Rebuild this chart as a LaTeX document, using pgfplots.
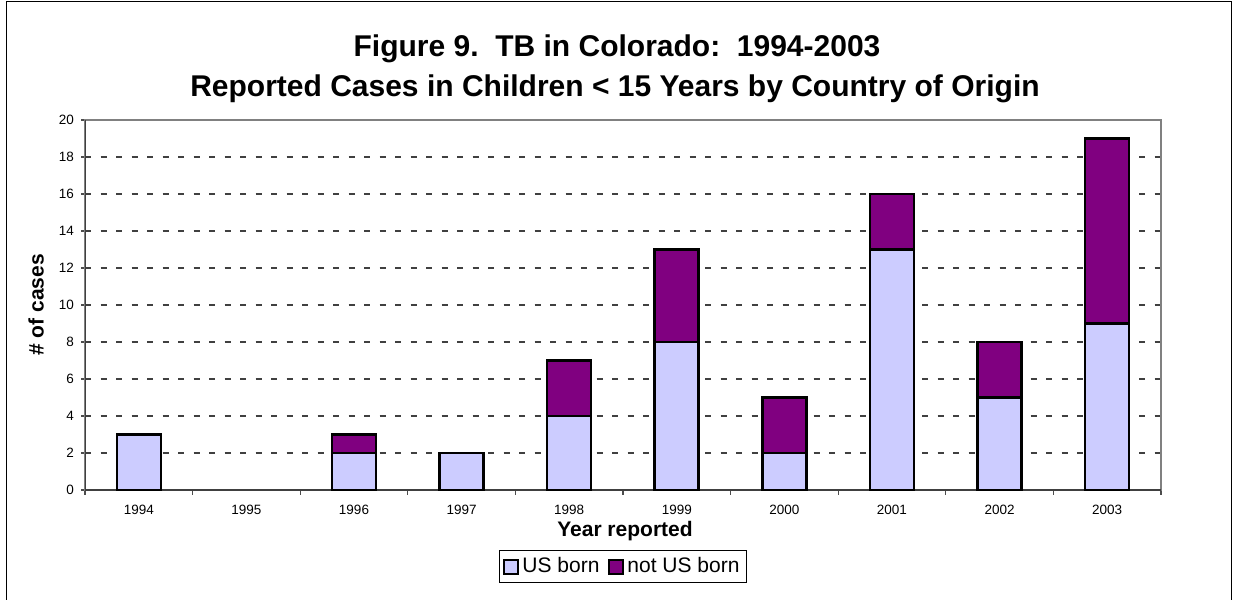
\documentclass[border=0pt]{standalone}
\usepackage{pgfplots}
\pgfplotsset{compat=1.18}
\usepackage{fontspec}
\setmainfont{Liberation Sans}
\definecolor{usb}{HTML}{CCCCFF}
\definecolor{nusb}{HTML}{800080}
\begin{document}
\begin{tikzpicture}
\useasboundingbox (0pt,0pt) rectangle (616.5pt,300pt);
\draw[line width=0.75pt] (3.25pt,0pt) -- (3.25pt,299.25pt) -- (615.75pt,299.25pt) -- (615.75pt,0pt);
\node[anchor=base, inner sep=0pt, font=\bfseries\fontsize{15}{18}\selectfont] at (308.5pt,271.5pt) {Figure 9.\ \ TB in Colorado:\ \ 1994-2003};
\node[anchor=base, inner sep=0pt, font=\bfseries\fontsize{15}{18}\selectfont] at (307.5pt,251.5pt) {Reported Cases in Children < 15 Years by Country of Origin};
\node[rotate=90, font=\bfseries\fontsize{10.5}{12}\selectfont] at (18pt,147.5pt) {\# of cases};
\node[font=\bfseries\fontsize{10.5}{12}\selectfont] at (312.5pt,34.5pt) {Year reported};
\begin{axis}[
  at={(42.5pt,55pt)}, anchor=south west, scale only axis,
  width=538pt, height=185pt,
  ybar stacked, bar width=22pt,
  xmin=-0.5, xmax=9.5, ymin=0, ymax=20,
  xtick={0,...,9},
  xticklabels={1994,1995,1996,1997,1998,1999,2000,2001,2002,2003},
  minor xtick={-0.5,0.5,...,9.5},
  ytick={0,2,...,20},
  tick align=outside,
  major tick length=2pt, minor tick length=2.5pt,
  major x tick style={draw=none},
  minor x tick style={draw=black!70, line width=0.6pt},
  y tick style={draw=black!70, line width=0.6pt},
  xtick pos=bottom, ytick pos=left,
  /pgf/number format/assume math mode=true,
  tick label style={font=\fontsize{6.75}{8}\selectfont},
  xticklabel style={yshift=-2pt},
  axis line style={draw=gray, line width=0.8pt},
  ymajorgrids,
  major grid style={dash pattern=on 3pt off 4.75pt, line width=1.3pt, black!75},
  legend style={at={(0.5,-0.162)}, anchor=north, legend columns=2, draw=black, line width=0.5pt,
    font=\fontsize{10.5}{12}\selectfont, inner xsep=2pt, inner ysep=2pt,
    nodes={inner sep=1.5pt}},
  /tikz/every even column/.append style={column sep=3pt},
]
\addplot[fill=usb, draw=black, line width=1.3pt,
  legend image code/.code={\draw[fill=usb, draw=black, line width=1pt] (0pt,-3.5pt) rectangle (7pt,3.5pt);}]
  coordinates {(0,3) (2,2) (3,2) (4,4) (5,8) (6,2) (7,13) (8,5) (9,9)};
\addlegendentry{US born}
\addplot[fill=nusb, draw=black, line width=1.3pt,
  legend image code/.code={\draw[fill=nusb, draw=black, line width=1pt] (0pt,-3.5pt) rectangle (7pt,3.5pt);}]
  coordinates {(0,0) (2,1) (3,0) (4,3) (5,5) (6,3) (7,3) (8,3) (9,10)};
\addlegendentry{not US born}
\draw[black!75, line width=1.4pt] (rel axis cs:0,1) -- (rel axis cs:0,0) -- (rel axis cs:1,0);
\end{axis}
\end{tikzpicture}
\end{document}
